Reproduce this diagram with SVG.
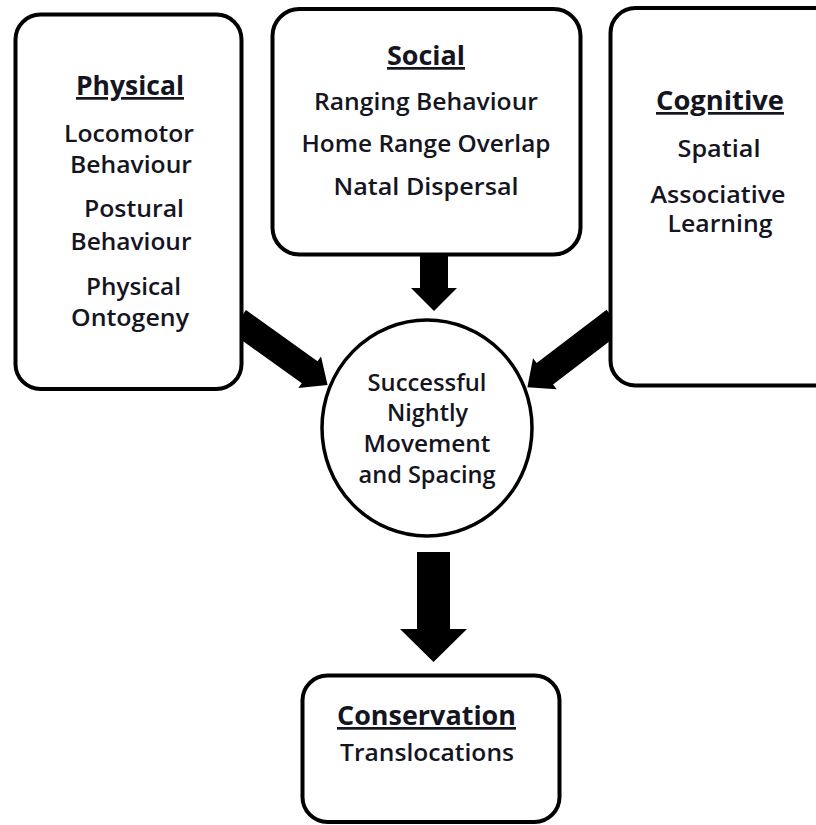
<svg xmlns="http://www.w3.org/2000/svg" width="816" height="825" viewBox="0 0 816 825">
  <style>
    .box { fill: #ffffff; stroke: #000000; stroke-width: 4; }
    .hub { fill: #ffffff; stroke: #000000; stroke-width: 3.5; }
    .arrow { fill: #000000; stroke: none; }
    text { font-family: "Open Sans", Lato, "Liberation Sans", sans-serif; fill: #15151f; text-anchor: middle; }
    .h { font-weight: bold; font-size: 27px; text-decoration: underline; }
    .t { font-weight: 600; font-size: 23.5px; }
  </style>
  <defs>
    <!-- thick block arrow pointing along +x, starting at the origin -->
    <polygon id="diag-arrow" points="-6,-13.5 82,-13.5 82,-19.5 104,0 82,19.5 82,13.5 -6,13.5"/>
  </defs>

  <rect width="816" height="825" fill="#ffffff"/>

  <g id="connectors" class="arrow">
    <use href="#diag-arrow" transform="translate(243,324.5) rotate(35.6)"/>
    <use href="#diag-arrow" transform="translate(610,324) rotate(142.6)"/>
    <polygon points="420,250 448,250 448,288 457,288 434,311 411,288 420,288"/>
    <polygon points="417,552 450,552 450,629 467,629 433.5,662 400,629 417,629"/>
  </g>

  <g id="physical">
    <rect class="box" x="15.5" y="14.5" width="226" height="374.5" rx="25"/>
    <text class="h" x="130" y="95" textLength="108" lengthAdjust="spacingAndGlyphs">Physical</text>
    <text class="t" x="129" y="142" textLength="130" lengthAdjust="spacingAndGlyphs">Locomotor</text>
    <text class="t" x="131" y="173" textLength="122" lengthAdjust="spacingAndGlyphs">Behaviour</text>
    <text class="t" x="134" y="217" textLength="100" lengthAdjust="spacingAndGlyphs">Postural</text>
    <text class="t" x="131" y="250" textLength="121" lengthAdjust="spacingAndGlyphs">Behaviour</text>
    <text class="t" x="133.5" y="295" textLength="95" lengthAdjust="spacingAndGlyphs">Physical</text>
    <text class="t" x="130" y="326" textLength="118" lengthAdjust="spacingAndGlyphs">Ontogeny</text>
  </g>

  <g id="social">
    <rect class="box" x="272.5" y="9" width="308" height="245.5" rx="27"/>
    <text class="h" x="426" y="65" textLength="78" lengthAdjust="spacingAndGlyphs">Social</text>
    <text class="t" x="426" y="110" textLength="224" lengthAdjust="spacingAndGlyphs">Ranging Behaviour</text>
    <text class="t" x="426" y="152" textLength="249" lengthAdjust="spacingAndGlyphs">Home Range Overlap</text>
    <text class="t" x="426" y="195" textLength="185" lengthAdjust="spacingAndGlyphs">Natal Dispersal</text>
  </g>

  <g id="cognitive">
    <rect class="box" x="610.5" y="8" width="228" height="377.5" rx="25"/>
    <text class="h" x="720" y="110" textLength="128" lengthAdjust="spacingAndGlyphs">Cognitive</text>
    <text class="t" x="719" y="157" textLength="83" lengthAdjust="spacingAndGlyphs">Spatial</text>
    <text class="t" x="718" y="203" textLength="135" lengthAdjust="spacingAndGlyphs">Associative</text>
    <text class="t" x="720" y="232" textLength="105" lengthAdjust="spacingAndGlyphs">Learning</text>
  </g>

  <g id="movement">
    <ellipse class="hub" cx="427" cy="428" rx="105" ry="108"/>
    <text class="t" x="427" y="391" textLength="119" lengthAdjust="spacingAndGlyphs">Successful</text>
    <text class="t" x="427.5" y="421" textLength="81" lengthAdjust="spacingAndGlyphs">Nightly</text>
    <text class="t" x="427" y="452" textLength="127" lengthAdjust="spacingAndGlyphs">Movement</text>
    <text class="t" x="427" y="483" textLength="137" lengthAdjust="spacingAndGlyphs">and Spacing</text>
  </g>

  <g id="conservation">
    <rect class="box" x="302.5" y="675.5" width="257" height="146.5" rx="25"/>
    <text class="h" x="426.5" y="725" textLength="179" lengthAdjust="spacingAndGlyphs">Conservation</text>
    <text class="t" x="427" y="761" textLength="174" lengthAdjust="spacingAndGlyphs">Translocations</text>
  </g>
</svg>
